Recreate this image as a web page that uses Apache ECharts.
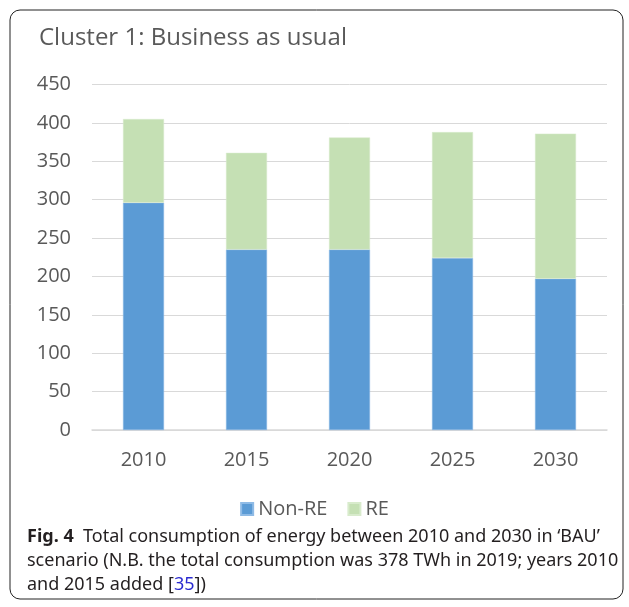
<!DOCTYPE html>
<html>
<head>
<meta charset="utf-8">
<script src="https://cdn.jsdelivr.net/npm/echarts@6/dist/echarts.min.js"></script>
<style>
  html, body { margin: 0; padding: 0; background: #fff; }
  #mychart { width: 629px; height: 607px; }
</style>
</head>
<body>
<div id="mychart"></div>
<script>
// data
const years = ['2010', '2015', '2020', '2025', '2030'];
const nonRE = [296, 235, 235, 224, 197];
const re = [109, 126, 146, 164, 189];
const yTicks = { min: 0, max: 450, interval: 50 };

const chartFont = '"Open Sans", "Noto Sans", sans-serif';
const captionFont = '"Noto Sans", "Open Sans", sans-serif';

const myChart = echarts.init(document.getElementById('mychart'));
const option = {
  backgroundColor: '#fff',
  animation: false,
  title: {
    text: 'Cluster 1: Business as usual',
    left: 34,
    top: 21,
    textStyle: { fontFamily: chartFont, fontSize: 24, fontWeight: 'normal', color: '#595959' }
  },
  legend: {
    data: ['Non-RE', 'RE'],
    left: 'center',
    top: 494,
    itemWidth: 12,
    itemHeight: 12,
    itemGap: 20,
    icon: 'rect',
    textStyle: { fontFamily: chartFont, fontSize: 20, color: '#595959' }
  },
  grid: { left: 92, right: 22, top: 84.5, bottom: 177 },
  xAxis: {
    type: 'category',
    data: years,
    axisLine: { lineStyle: { color: '#d9d9d9', width: 1.5 } },
    axisTick: { show: false },
    axisLabel: { margin: 20, fontFamily: chartFont, fontSize: 20, color: '#595959' }
  },
  yAxis: {
    type: 'value',
    min: yTicks.min,
    max: yTicks.max,
    interval: yTicks.interval,
    axisLine: { show: false },
    axisTick: { show: false },
    splitLine: { lineStyle: { color: '#d9d9d9', width: 1 } },
    axisLabel: { margin: 21, fontFamily: chartFont, fontSize: 20, color: '#595959' }
  },
  series: [
    {
      name: 'Non-RE',
      type: 'bar',
      stack: 'total',
      barWidth: 41,
      data: nonRE,
      itemStyle: { color: '#5b9bd5', borderColor: '#8fbbe6', borderWidth: 0.5 }
    },
    {
      name: 'RE',
      type: 'bar',
      stack: 'total',
      barWidth: 41,
      data: re,
      itemStyle: { color: '#c5e0b4', borderColor: '#d8ebcc', borderWidth: 0.5 }
    }
  ],
  graphic: [
    {
      type: 'rect',
      shape: { x: 10, y: 10, width: 613, height: 589, r: 10 },
      style: { fill: 'none', stroke: '#222', lineWidth: 1 },
      silent: true
    },
    {
      type: 'text',
      left: 27,
      top: 528,
      style: {
        text: '{b|Fig. 4}  Total consumption of energy between 2010 and 2030 in ‘BAU’',
        fontFamily: captionFont,
        fontSize: 18,
        fill: '#231f20',
        rich: { b: { fontFamily: captionFont, fontSize: 18, fontWeight: 'bold', fill: '#231f20' } }
      }
    },
    {
      type: 'text',
      left: 27,
      top: 552,
      style: {
        text: 'scenario (N.B. the total consumption was 378 TWh in 2019; years 2010',
        fontFamily: captionFont,
        fontSize: 18,
        fill: '#231f20'
      }
    },
    {
      type: 'text',
      left: 27,
      top: 576,
      style: {
        text: 'and 2015 added [{l|35}])',
        fontFamily: captionFont,
        fontSize: 18,
        fill: '#231f20',
        rich: { l: { fontFamily: captionFont, fontSize: 18, fill: '#2a2ad0' } }
      }
    }
  ]
};
myChart.setOption(option);
</script>
</body>
</html>
